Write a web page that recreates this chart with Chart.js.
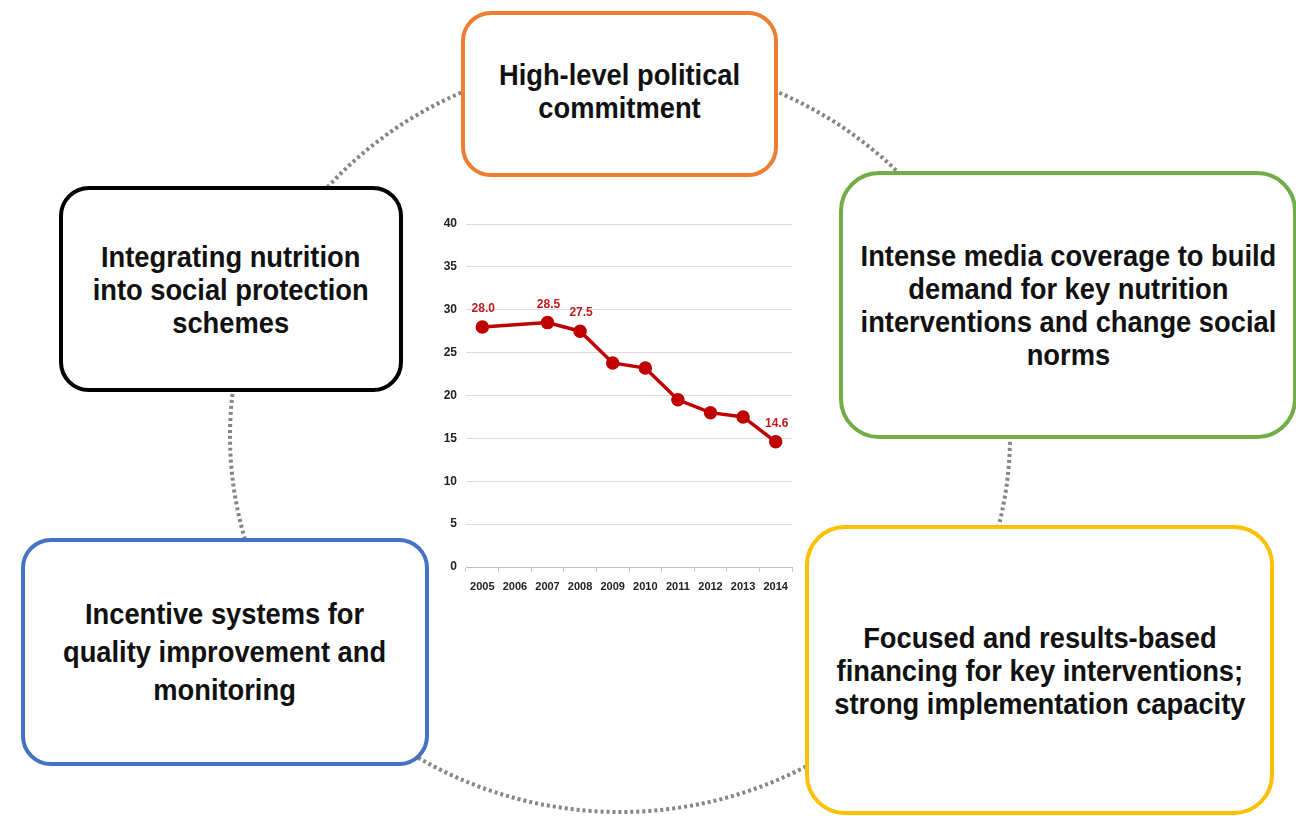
<!DOCTYPE html>
<html>
<head>
<meta charset="utf-8">
<script src="https://cdn.jsdelivr.net/npm/chart.js@4.4.1/dist/chart.umd.min.js"></script>
<style>
  html, body { margin: 0; padding: 0; background: #fff; }
  #stage { position: relative; width: 1296px; height: 816px; overflow: hidden; background: #fff; }
  #ring { position: absolute; left: 0; top: 0; }
  #chartBox { position: absolute; left: 420px; top: 200px; width: 390px; height: 420px; }
  .box {
    position: absolute; box-sizing: border-box; background: #fff;
    border-style: solid; border-width: 4px; border-radius: 30px;
    display: flex; align-items: center; justify-content: center; text-align: center;
    font-family: "Liberation Sans", Arial, sans-serif;
    font-weight: bold; font-size: 30px; color: #111; line-height: 33px;
  }
  .box span { display: inline-block; white-space: nowrap; transform: scaleX(0.91); }
</style>
</head>
<body>
<div id="stage">
  <svg id="ring" width="1296" height="816">
    <ellipse cx="620" cy="436" rx="390" ry="376" fill="none" stroke="#858585" stroke-width="4" stroke-dasharray="3 3"/>
  </svg>
  <div id="chartBox"><canvas id="chart"></canvas></div>

  <div class="box" style="left:461px; top:11px; width:317px; height:166px; border-color:#ED7D31; padding-bottom:6px;"><span>High-level political<br>commitment</span></div>
  <div class="box" style="left:59px; top:186px; width:344px; height:206px; border-color:#000;"><span>Integrating nutrition<br>into social protection<br>schemes</span></div>
  <div class="box" style="left:839px; top:171px; width:458px; height:268px; border-color:#70AD47; border-radius:40px;"><span>Intense media coverage to build<br>demand for key nutrition<br>interventions and change social<br>norms</span></div>
  <div class="box" style="left:21px; top:538px; width:408px; height:228px; border-color:#4472C4; line-height:38px;"><span>Incentive systems for<br>quality improvement and<br>monitoring</span></div>
  <div class="box" style="left:805px; top:525px; width:469px; height:290px; border-color:#FFC000; border-radius:40px;"><span>Focused and results-based<br>financing for key interventions;<br>strong implementation capacity</span></div>
</div>

<script>
// Years on the horizontal axis
const years = ['2005', '2006', '2007', '2008', '2009', '2010', '2011', '2012', '2013', '2014'];
// Stunting rate (%) per year; 2006 has no survey value
const stuntingRate = [28.0, null, 28.5, 27.5, 23.8, 23.2, 19.5, 18.0, 17.5, 14.6];
// Years whose values are printed above the line
const labelledYears = ['2005', '2007', '2008', '2014'];
// Vertical axis ticks
const yTicks = [0, 5, 10, 15, 20, 25, 30, 35, 40];

const lineRed = '#C00000';
const xTickFont = { family: '"Liberation Sans", Arial, sans-serif', size: 11, weight: 'bold' };
const yTickFont = { family: '"Liberation Sans", Arial, sans-serif', size: 12, weight: 'bold' };

const valueLabels = {
  id: 'valueLabels',
  afterDatasetsDraw(chart) {
    const ctx = chart.ctx;
    const meta = chart.getDatasetMeta(0);
    ctx.save();
    ctx.font = 'bold 12px "Liberation Sans", Arial, sans-serif';
    ctx.fillStyle = '#C0181E';
    ctx.textAlign = 'center';
    ctx.textBaseline = 'alphabetic';
    labelledYears.forEach(y => {
      const i = years.indexOf(y);
      const v = stuntingRate[i];
      const pt = meta.data[i];
      if (v == null || !pt) return;
      ctx.fillText(v.toFixed(1), pt.x + 1, pt.y - 15);
    });
    ctx.restore();
  }
};

new Chart(document.getElementById('chart'), {
  type: 'line',
  data: {
    labels: years,
    datasets: [{
      data: stuntingRate,
      borderColor: lineRed,
      backgroundColor: lineRed,
      borderWidth: 3.5,
      pointRadius: 5,
      pointBackgroundColor: lineRed,
      pointBorderColor: lineRed,
      spanGaps: true,
      tension: 0
    }]
  },
  options: {
    responsive: true,
    maintainAspectRatio: false,
    animation: false,
    devicePixelRatio: 1,
    layout: { padding: { left: 10, right: 18, top: 24, bottom: 18 } },
    plugins: { legend: { display: false }, tooltip: { enabled: false } },
    scales: {
      x: {
        offset: true,
        grid: { offset: true, drawOnChartArea: false, drawTicks: true, tickLength: 5, color: '#c8c8c8' },
        border: { color: '#bdbdbd', width: 1 },
        ticks: { font: xTickFont, color: '#222', padding: 8, maxRotation: 0, autoSkip: false },
        afterFit(s) { s.height = 35; }
      },
      y: {
        min: 0, max: 40,
        afterBuildTicks(s) { s.ticks = yTicks.map(v => ({ value: v })); },
        grid: { color: '#dcdcdc', drawTicks: false },
        border: { display: false },
        ticks: { font: yTickFont, color: '#222', padding: 9 },
        afterFit(s) { s.width = 36; }
      }
    }
  },
  plugins: [valueLabels]
});
</script>
</body>
</html>
